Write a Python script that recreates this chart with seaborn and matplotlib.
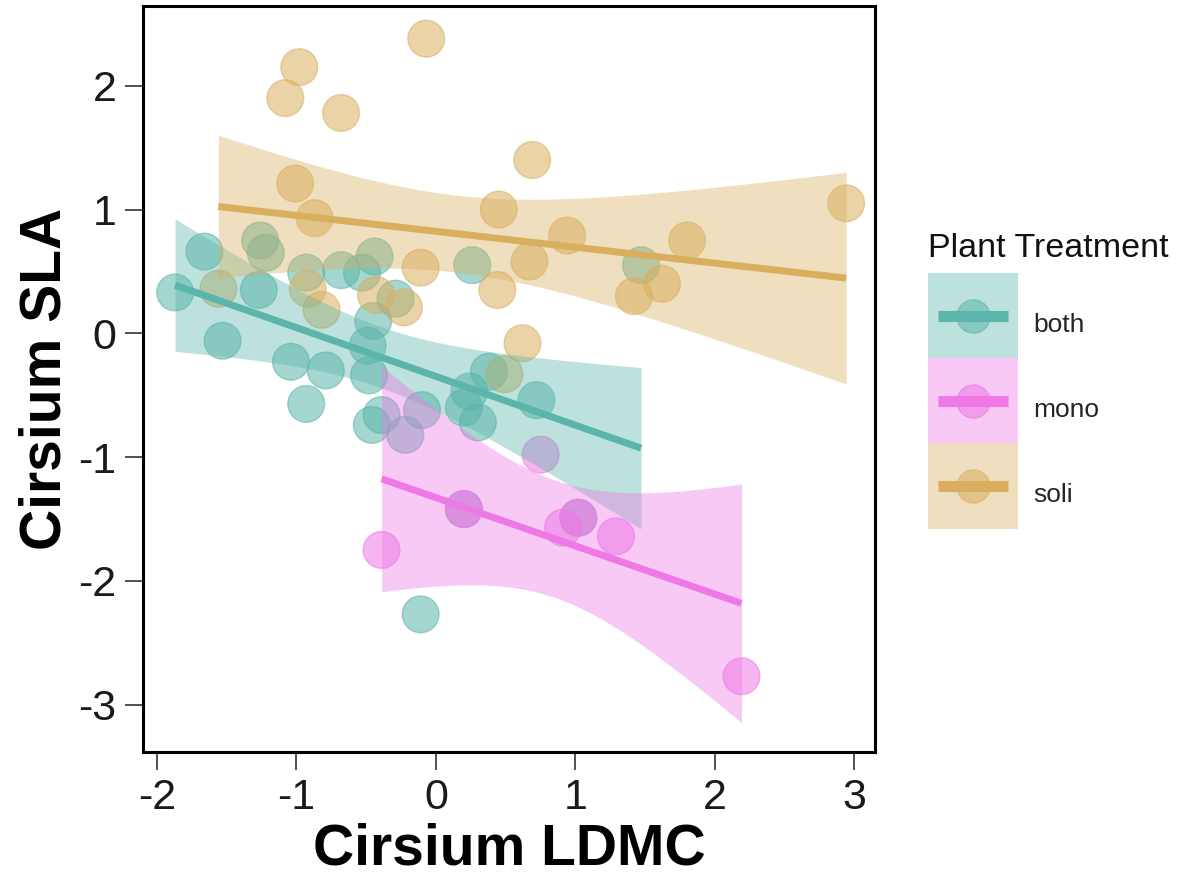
import numpy as np
import pandas as pd
import seaborn as sns
import matplotlib.pyplot as plt
from matplotlib.patches import Patch, Rectangle
from matplotlib.lines import Line2D
from matplotlib.legend_handler import HandlerTuple, HandlerLine2D, HandlerPatch

# data
both_x = [-1.87, -1.66, -1.53, -1.27, -1.26, -1.22, -1.04, -0.93, -0.93, -0.79,
          -0.68, -0.53, -0.44, -0.29, -0.45, -0.49, -0.48, -0.46, -0.39, -0.10,
          -0.22, -0.11, 0.26, 0.38, 0.24, 0.20, 0.30, 0.72, 0.20, 1.02, 1.47]
both_y = [0.33, 0.66, -0.06, 0.35, 0.75, 0.65, -0.23, 0.49, -0.57, -0.30,
          0.51, 0.49, 0.62, 0.28, 0.10, -0.10, -0.34, -0.74, -0.66, -0.62,
          -0.82, -2.27, 0.55, -0.31, -0.47, -0.60, -0.72, -0.54, -1.42, -1.49, 0.55]

mono_x = [-0.39, 0.20, 0.75, 0.91, 1.02, 1.29, 2.19]
mono_y = [-1.75, -1.42, -0.98, -1.57, -1.49, -1.64, -2.77]

soli_x = [-1.56, -1.08, -0.98, -0.68, -0.07, -1.01, -0.87, -0.92, -0.82, -0.43,
          -0.23, -0.11, 0.44, 0.45, 0.62, 0.49, 0.69, 0.67, 0.94, 1.42,
          1.62, 1.80, 2.94]
soli_y = [0.36, 1.90, 2.15, 1.78, 2.38, 1.21, 0.93, 0.36, 0.19, 0.31,
          0.21, 0.53, 0.35, 1.00, -0.08, -0.33, 1.40, 0.58, 0.79, 0.30,
          0.40, 0.75, 1.05]

groups = ["both", "mono", "soli"]
colors = {"both": "#5BB5AA", "mono": "#EE78E6", "soli": "#D9AF5F"}

df = pd.concat([
    pd.DataFrame({"ldmc": both_x, "sla": both_y, "trt": "both"}),
    pd.DataFrame({"ldmc": mono_x, "sla": mono_y, "trt": "mono"}),
    pd.DataFrame({"ldmc": soli_x, "sla": soli_y, "trt": "soli"}),
], ignore_index=True)


def t_crit(dof, q=0.975):
    grid = np.linspace(-80, 80, 400001)
    pdf = (1 + grid ** 2 / dof) ** (-(dof + 1) / 2)
    cdf = np.cumsum(pdf)
    cdf /= cdf[-1]
    return grid[np.searchsorted(cdf, q)]


KEY_SHIFT = 6.5  # points, lifts legend keys relative to the labels


def key_rect(legend, orig_handle, xdescent, ydescent, width, height, fontsize):
    return Rectangle((-xdescent, -ydescent + KEY_SHIFT), width, height)


class CenteredLine(HandlerLine2D):
    def create_artists(self, legend, orig_handle, xdescent, ydescent,
                       width, height, fontsize, trans):
        arts = super().create_artists(legend, orig_handle, xdescent, ydescent,
                                      width, height, fontsize, trans)
        for a in arts:
            yd = np.asarray(a.get_ydata(), dtype=float)
            a.set_ydata(np.full_like(yd, height / 2 - ydescent + KEY_SHIFT))
        return arts


sns.set_theme(style="white")
plt.rcParams["font.family"] = ["Liberation Sans", "DejaVu Sans"]
plt.rcParams["axes.unicode_minus"] = False

fig = plt.figure(figsize=(11.85, 8.77), dpi=100)
ax = fig.add_axes([0.1207, 0.1431, 0.6177, 0.8495])

sns.scatterplot(data=df, x="ldmc", y="sla", hue="trt", palette=colors,
                s=700, alpha=0.55, edgecolor="face", linewidth=1,
                legend=False, ax=ax, zorder=2)

# lm fit + 95% t-based confidence band per treatment
for g in groups:
    sub = df[df["trt"] == g]
    x = sub["ldmc"].to_numpy()
    y = sub["sla"].to_numpy()
    n = len(x)
    b, a = np.polyfit(x, y, 1)
    resid = y - (a + b * x)
    s = np.sqrt(np.sum(resid ** 2) / (n - 2))
    xs = np.linspace(x.min(), x.max(), 100)
    se = s * np.sqrt(1 / n + (xs - x.mean()) ** 2 / np.sum((x - x.mean()) ** 2))
    tc = t_crit(n - 2)
    fit = a + b * xs
    ax.fill_between(xs, fit - tc * se, fit + tc * se, color=colors[g],
                    alpha=0.4, linewidth=0, zorder=3)
    sns.regplot(x=x, y=y, scatter=False, ci=None, color=colors[g],
                line_kws={"lw": 5, "zorder": 4, "solid_capstyle": "butt"}, ax=ax)

ax.set_xlim(-2.10, 3.147)
ax.set_ylim(-3.378, 2.640)
ax.set_xticks([-2, -1, 0, 1, 2, 3])
ax.set_yticks([-3, -2, -1, 0, 1, 2])
ax.tick_params(axis="both", which="major", labelsize=31, length=13, width=1.2,
               color="#333333", labelcolor="#1a1a1a", pad=6, direction="out",
               bottom=True, left=True)
for sp in ax.spines.values():
    sp.set_color("black")
    sp.set_linewidth(2.2)

ax.set_xlabel("Cirsium LDMC", fontsize=41, fontweight="bold", labelpad=3,
              color="black")
ax.set_ylabel("Cirsium SLA", fontsize=41, fontweight="bold", labelpad=4,
              color="black")

handles = []
hmap = {tuple: HandlerTuple(ndivide=1, pad=0)}
for g in groups:
    band = Patch(facecolor=colors[g], alpha=0.4, linewidth=0)
    dot = Line2D([], [], marker="o", markersize=24, linestyle="",
                 markerfacecolor=colors[g], markeredgecolor=colors[g], alpha=0.55)
    line = Line2D([], [], color=colors[g], lw=8, solid_capstyle="butt")
    hmap[band] = HandlerPatch(patch_func=key_rect)
    hmap[dot] = CenteredLine(numpoints=1)
    hmap[line] = CenteredLine(numpoints=2, marker_pad=0.38)
    handles.append((band, dot, line))

leg = fig.legend(handles, groups, title="Plant Treatment", handler_map=hmap,
                 loc="upper left", bbox_to_anchor=(928 / 1185, 1 - 233 / 877),
                 frameon=False, fontsize=19, title_fontsize=24.5,
                 handlelength=3.4, handleheight=4.58, labelspacing=0,
                 handletextpad=0.6, borderpad=0, borderaxespad=0)
leg.get_title().set_color("#111111")
leg._legend_box.align = "left"
leg._legend_box.sep = 13.3

plt.savefig("out.png", dpi=100)
